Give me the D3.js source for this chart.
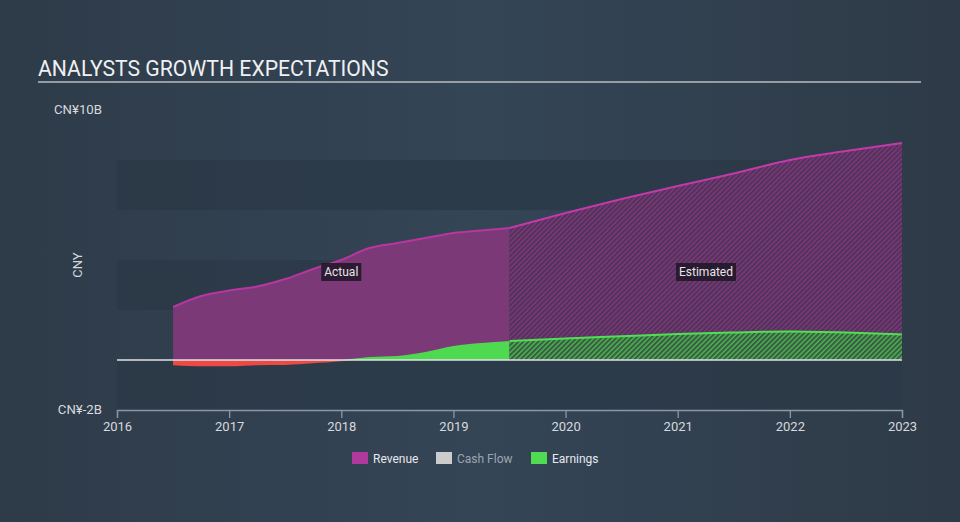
<!DOCTYPE html>
<html><head><meta charset="utf-8">
<script src="https://cdn.jsdelivr.net/npm/d3@7"></script>
<style>
html,body{margin:0;padding:0;background:#2f3d4c;}
svg{display:block;font-family:Roboto,"Noto Sans",sans-serif;}
</style></head>
<body><svg id="chart" width="960" height="522"></svg>
<script>
// ---- data (values in CNY billions) ----
const actualYears     = [2016.5, 2016.75, 2017.0, 2017.25, 2017.5, 2017.75, 2018.0, 2018.25, 2018.5, 2018.75, 2019.0, 2019.25, 2019.5];
const revenueActual   = [2.12, 2.56, 2.78, 2.94, 3.24, 3.64, 4.0, 4.48, 4.68, 4.88, 5.08, 5.18, 5.28];
const earningsActual  = [-0.16, -0.2, -0.2, -0.16, -0.15, -0.08, 0.0, 0.12, 0.16, 0.32, 0.56, 0.68, 0.76];
const estimateYears   = [2019.5, 2020.0, 2020.5, 2021.0, 2021.5, 2022.0, 2022.5, 2023.0];
const revenueEstimate = [5.28, 5.88, 6.44, 6.96, 7.46, 8.0, 8.36, 8.68];
const earningsEstimate= [0.76, 0.86, 0.95, 1.04, 1.1, 1.14, 1.1, 1.02];
const xTicks = [2016, 2017, 2018, 2019, 2020, 2021, 2022, 2023];
const yLabels = [{v:10, t:"CN¥10B"}, {v:-2, t:"CN¥-2B"}];
const legendItems = [{name:"Revenue", color:"#b0399e", dim:false},{name:"Cash Flow", color:"#cccccc", dim:true},{name:"Earnings", color:"#4fdc52", dim:false}];

const svg = d3.select("#chart");
const W = 960, H = 522;
const defs = svg.append("defs");

// background gradient
const bg = defs.append("linearGradient").attr("id","bg").attr("x1","0").attr("x2","1").attr("y1","0").attr("y2","0");
bg.append("stop").attr("offset","0").attr("stop-color","#2e3b49");
bg.append("stop").attr("offset","0.5").attr("stop-color","#344556");
bg.append("stop").attr("offset","1").attr("stop-color","#2e3a47");
svg.append("rect").attr("width",W).attr("height",H).attr("fill","url(#bg)");

// hatch patterns
function hatch(id, base, line){
  const p = defs.append("pattern").attr("id",id).attr("patternUnits","userSpaceOnUse")
    .attr("width",3.5).attr("height",3.5).attr("patternTransform","rotate(45)");
  p.append("rect").attr("width",3.5).attr("height",3.5).attr("fill",base);
  p.append("line").attr("x1",1).attr("x2",1).attr("y1",0).attr("y2",3.5).attr("stroke",line).attr("stroke-width",1.3);
}
hatch("hatchRev", "#4f3459", "#87367f");
hatch("hatchEarn", "#3a5a45", "#4cc24e");

const x = d3.scaleLinear().domain([2016, 2023]).range([117, 902]);
const y = d3.scaleLinear().domain([-2, 10]).range([410, 110]);

// bands
const bands = [[8,6],[4,2],[0,-2]];
svg.append("g").selectAll("rect").data(bands).join("rect")
  .attr("x", x(2016)).attr("width", x(2023)-x(2016))
  .attr("y", d=>y(d[0])).attr("height", d=>y(d[1])-y(d[0]))
  .attr("fill","#2c3a48").attr("opacity",0.85);

// title
svg.append("text").attr("x",38).attr("y",76).attr("fill","#eef0f2")
  .attr("font-size",21.2).text("ANALYSTS GROWTH EXPECTATIONS");
svg.append("line").attr("x1",38).attr("x2",921).attr("y1",82).attr("y2",82)
  .attr("stroke","#b8bcc2").attr("stroke-width",1.6);

// y labels
svg.append("g").selectAll("text").data(yLabels).join("text")
  .attr("x",102).attr("y",d=>y(d.v)+4).attr("text-anchor","end")
  .attr("fill","#d6d9dd").attr("font-size",13.2).text(d=>d.t);
svg.append("text").attr("transform","translate(82,265) rotate(-90)")
  .attr("text-anchor","middle").attr("fill","#d6d9dd").attr("font-size",13).text("CNY");

const curve = d3.curveMonotoneX;
const act = actualYears.map((t,i)=>({t, r:revenueActual[i], e:earningsActual[i]}));
const est = estimateYears.map((t,i)=>({t, r:revenueEstimate[i], e:earningsEstimate[i]}));

const revArea = d3.area().x(d=>x(d.t)).y0(y(0)).y1(d=>y(d.r)).curve(curve);
const revLine = d3.line().x(d=>x(d.t)).y(d=>y(d.r)).curve(curve);
const earnArea = d3.area().x(d=>x(d.t)).y0(y(0)).y1(d=>y(d.e)).curve(curve);
const earnLine = d3.line().x(d=>x(d.t)).y(d=>y(d.e)).curve(curve);

// clips for positive / negative
defs.append("clipPath").attr("id","pos").append("rect").attr("x",0).attr("y",0).attr("width",W).attr("height",y(0));
defs.append("clipPath").attr("id","neg").append("rect").attr("x",0).attr("y",y(0)).attr("width",W).attr("height",H);

// revenue
svg.append("path").datum(act).attr("d",revArea).attr("fill","#7b3a77");
svg.append("path").datum(est).attr("d",revArea).attr("fill","url(#hatchRev)");
svg.append("path").datum(act).attr("d",revLine).attr("fill","none").attr("stroke","#b8369f").attr("stroke-width",2);
svg.append("path").datum(est).attr("d",revLine).attr("fill","none").attr("stroke","#c23aa8").attr("stroke-width",2);

// earnings
svg.append("path").datum(act).attr("d",earnArea).attr("fill","#4fd951").attr("clip-path","url(#pos)");
svg.append("path").datum(act).attr("d",earnArea).attr("fill","#ee4a44").attr("clip-path","url(#neg)");
svg.append("path").datum(act).attr("d",earnLine).attr("fill","none").attr("stroke","#ee4a44").attr("stroke-width",2.5).attr("clip-path","url(#neg)");
svg.append("path").datum(est).attr("d",earnArea).attr("fill","url(#hatchEarn)");
svg.append("path").datum(est).attr("d",earnLine).attr("fill","none").attr("stroke","#4fe052").attr("stroke-width",2);

// zero line
svg.append("line").attr("x1",x(2016)).attr("x2",x(2023)).attr("y1",y(0)).attr("y2",y(0))
  .attr("stroke","#dfe3e6").attr("stroke-width",1.3);

// x axis
const xAxis = d3.axisBottom(x).tickValues(xTicks).tickFormat(d3.format("d")).tickSize(8).tickPadding(4);
const gx = svg.append("g").attr("transform",`translate(0,${y(-2)})`).call(xAxis);
gx.select(".domain").attr("stroke","#8b97a4").attr("stroke-width",1.3);
gx.selectAll(".tick line").attr("stroke","#8b97a4").attr("stroke-width",1.3);
gx.selectAll(".tick text").attr("fill","#d6d9dd").attr("font-size",13).attr("font-family","Roboto, sans-serif");

// labels
function tag(cx, cy, txt){
  const g = svg.append("g");
  const t = g.append("text").attr("x",cx).attr("y",cy+4).attr("text-anchor","middle")
    .attr("fill","#e6e6ea").attr("font-size",12).text(txt);
  const bb = t.node().getBBox();
  g.insert("rect","text").attr("x",bb.x-3).attr("y",cy-9).attr("width",bb.width+6).attr("height",18)
    .attr("fill","#1f1626").attr("opacity",0.85);
}
tag(x(2018), 272, "Actual");
tag(706, 272, "Estimated");

// legend
const lg = svg.append("g").attr("transform","translate(352,452)");
const offs = [0, 84, 179];
legendItems.forEach((d,i)=>{
  const g = lg.append("g").attr("transform",`translate(${offs[i]},0)`);
  g.append("rect").attr("width",16).attr("height",12).attr("fill",d.color);
  g.append("text").attr("x",21).attr("y",10.5).attr("font-size",12)
    .attr("fill", d.dim ? "#9ea6b0" : "#e6e8eb").text(d.name);
});
</script></body></html>
